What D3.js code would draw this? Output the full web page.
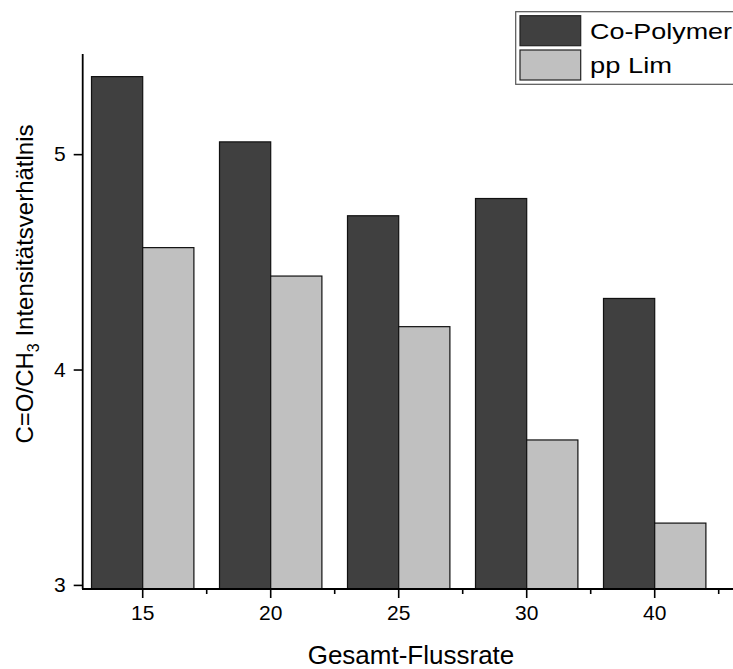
<!DOCTYPE html>
<html>
<head>
<meta charset="utf-8">
<script src="https://cdn.jsdelivr.net/npm/d3@7"></script>
<style>
  body { margin: 0; background: #fff; }
  text { font-family: Arial, 'Liberation Sans', sans-serif; fill: #000; }
</style>
</head>
<body>
<div id="chart"></div>
<script>
'use strict';
// data
const categories = ['15', '20', '25', '30', '40'];
const seriesNames = ['Co-Polymer', 'pp Lim'];
const coPolymer = [5.36, 5.057, 4.714, 4.794, 4.33];
const ppLim = [4.566, 4.434, 4.199, 3.673, 3.287];
const yTicks = [3, 4, 5];

const settings = {
    width: 733,
    height: 669,
    elId: '#chart',
};

const colors = ['#404040', '#c0c0c0'];

const svg = d3.select(settings.elId)
    .append('svg')
    .attr('width', settings.width)
    .attr('height', settings.height);

// scales
const x = d3.scaleBand()
    .domain(categories)
    .range([78.7, 78.7 + 128 * categories.length])
    .padding(0);

const xSub = d3.scaleBand()
    .domain(seriesNames)
    .range([0, x.bandwidth()])
    .paddingInner(0)
    .paddingOuter(0.25);

const y = d3.scaleLinear()
    .domain([2.981, 5.465])
    .range([589, 54]);

const rows = categories.map((c, i) => ({ cat: c, values: [coPolymer[i], ppLim[i]] }));

// bars
const groups = svg.append('g')
    .selectAll('g')
    .data(rows)
    .join('g')
    .attr('transform', d => `translate(${x(d.cat)},0)`);

groups.selectAll('rect')
    .data(d => d.values.map((v, j) => ({ name: seriesNames[j], value: v, j })))
    .join('rect')
    .attr('x', d => xSub(d.name))
    .attr('width', xSub.bandwidth())
    .attr('y', d => y(d.value))
    .attr('height', d => y.range()[0] - y(d.value))
    .attr('fill', d => colors[d.j])
    .attr('stroke', '#111')
    .attr('stroke-width', 1.2);

// y axis
const yAxis = svg.append('g')
    .attr('transform', 'translate(82.7,0)')
    .call(d3.axisLeft(y).tickValues(yTicks).tickFormat(d3.format('d')).tickSize(9).tickPadding(8));
yAxis.select('.domain').attr('d', `M0,${y.range()[1]}V${y.range()[0]}`).attr('stroke-width', 1.8);
yAxis.selectAll('.tick line').attr('stroke-width', 1.6);
yAxis.selectAll('.tick text').attr('font-size', 21);

// x axis
const xAxis = svg.append('g')
    .attr('transform', `translate(0,${y.range()[0]})`)
    .call(d3.axisBottom(x).tickSize(9).tickPadding(7));
xAxis.select('.domain').attr('d', 'M82,0H733').attr('stroke-width', 1.8);
xAxis.selectAll('.tick line').attr('stroke-width', 1.6);
xAxis.selectAll('.tick text').attr('font-size', 21);

// minor ticks at band edges
xAxis.selectAll('.minor')
    .data(categories)
    .join('line')
    .attr('class', 'minor')
    .attr('x1', d => x(d) + x.step())
    .attr('x2', d => x(d) + x.step())
    .attr('y1', 0)
    .attr('y2', 5)
    .attr('stroke', '#000')
    .attr('stroke-width', 1.6);

// axis titles
svg.append('text')
    .attr('x', 411)
    .attr('y', 664)
    .attr('text-anchor', 'middle')
    .attr('font-size', 26)
    .text('Gesamt-Flussrate');

const yTitle = svg.append('text')
    .attr('transform', 'translate(33,284) rotate(-90)')
    .attr('text-anchor', 'middle')
    .attr('font-size', 24);
yTitle.append('tspan').text('C=O/CH');
yTitle.append('tspan').attr('font-size', 16).attr('dy', 6).text('3');
yTitle.append('tspan').attr('dy', -6).text(' Intensitätsverhätlnis');

// legend
const legend = svg.append('g').attr('transform', 'translate(515.7,11.7)');
legend.append('rect')
    .attr('width', 240)
    .attr('height', 72.6)
    .attr('fill', '#fff')
    .attr('stroke', '#555')
    .attr('stroke-width', 1.2);
const legendWidths = [142, 82];
const items = legend.selectAll('.item')
    .data(seriesNames)
    .join('g')
    .attr('class', 'item')
    .attr('transform', (d, i) => `translate(4.3,${4 + i * 34.3})`);
items.append('rect')
    .attr('width', 60.7)
    .attr('height', 30)
    .attr('fill', (d, i) => colors[i])
    .attr('stroke', '#222')
    .attr('stroke-width', 1.2);
items.append('text')
    .attr('x', 70)
    .attr('y', 23)
    .attr('font-size', 22)
    .attr('textLength', (d, i) => legendWidths[i])
    .attr('lengthAdjust', 'spacingAndGlyphs')
    .text(d => d);
</script>
</body>
</html>
